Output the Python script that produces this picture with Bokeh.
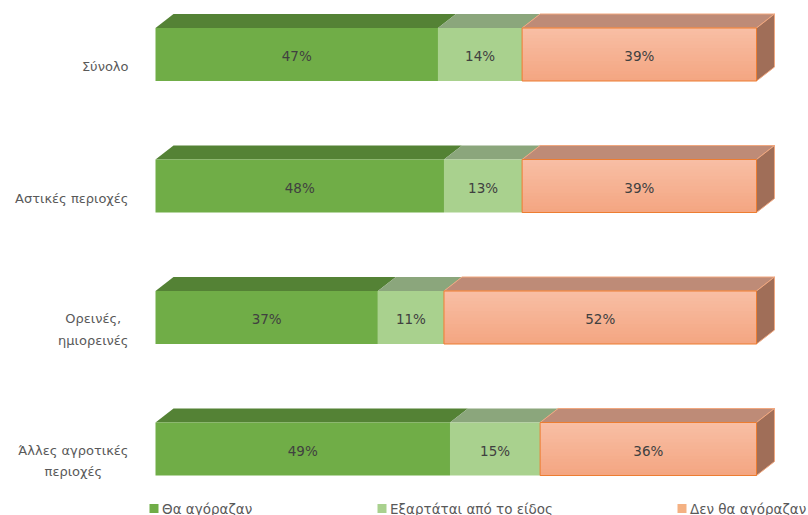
from bokeh.plotting import figure
from bokeh.models import ColumnDataSource, Range1d
from bokeh.core.properties import value
from bokeh.embed import file_html
from bokeh.resources import INLINE

# ---------------- data ----------------
categories = ["Σύνολο", "Αστικές περιοχές", "Ορεινές,\nημιορεινές", "Άλλες αγροτικές\nπεριοχές"]
would_buy = [47, 48, 37, 49]
depends = [14, 13, 11, 15]
would_not = [39, 39, 52, 36]
series_names = ["Θα αγόραζαν", "Εξαρτάται από το είδος", "Δεν θα αγόραζαν"]

# ---------------- style ----------------
front_colors = ["#70AD47", "#A9D18E", "#F5B08F"]
top_colors = ["#548235", "#8BA67C", "#BE8B77"]
side_color = "#A06E58"
legend_colors = ["#70AD47", "#A9D18E", "#F4B183"]
grad_top = (248, 190, 164)
grad_bot = (244, 166, 130)
FONT = "DejaVu Sans"

PX_PER_PCT = 6.01   # horizontal pixels per percent
ROW_PX = 131.5      # vertical pixels between category rows
X0_PX = 155         # page x of 0 %
Y0_PX = 54          # page y of first row centre
OFF = 0             # page offset of the canvas


def xd(px):
    return (px - X0_PX) / PX_PER_PCT


def yd(py):
    return (py - Y0_PX) / ROW_PX


W, H = 808, 515
p = figure(width=W, height=H, output_backend="svg", toolbar_location=None,
           x_range=Range1d(xd(OFF), xd(OFF + W)), y_range=Range1d(yd(OFF + H), yd(OFF)),
           x_axis_location=None, y_axis_location=None, min_border=0,
           outline_line_color=None, background_fill_color="white",
           border_fill_color="white")
p.grid.visible = False

hh = 26.5 / ROW_PX          # half bar height
ddx = 18 / PX_PER_PCT       # 3D depth (x)
ddy = 14 / ROW_PX           # 3D depth (y, upward)

series = [would_buy, depends, would_not]
idx = list(range(len(categories)))

lefts, rights = [], []
cum = [0] * len(categories)
for s in series:
    l = list(cum)
    r = [c + v for c, v in zip(cum, s)]
    lefts.append(l)
    rights.append(r)
    cum = r

# top faces
for k in range(3):
    xs, ys = [], []
    for i in idx:
        l, r = lefts[k][i], rights[k][i]
        t = i - hh
        xs.append([l, r, r + ddx, l + ddx])
        ys.append([t, t, t - ddy, t - ddy])
    lc = "#F0A77F" if k == 2 else None
    p.patches(xs, ys, fill_color=top_colors[k], line_color=lc, line_width=1)

# right side face of last segment
xs, ys = [], []
for i in idx:
    r = rights[2][i]
    t, b = i - hh, i + hh
    xs.append([r, r + ddx, r + ddx, r])
    ys.append([t, t - ddy, b - ddy, b])
p.patches(xs, ys, fill_color=side_color, line_color="#F0A77F", line_width=1)

# front faces
for k in range(2):
    src = ColumnDataSource(dict(left=lefts[k], right=rights[k],
                                top=[i - hh for i in idx], bottom=[i + hh for i in idx]))
    p.quad(left="left", right="right", top="top", bottom="bottom", source=src,
           fill_color=front_colors[k], line_color=None)

# orange front with vertical gradient (overlapping strips, no seams)
N = 16
gl, gr, gt, gb, gc = [], [], [], [], []
for i in idx:
    for j in range(N):
        f = j / (N - 1)
        col = "#%02x%02x%02x" % tuple(int(round(a + (b - a) * f)) for a, b in zip(grad_top, grad_bot))
        gl.append(lefts[2][i])
        gr.append(rights[2][i])
        gt.append(i - hh + 2 * hh * j / N)
        gb.append(i + hh)
        gc.append(col)
p.quad(left=gl, right=gr, top=gt, bottom=gb, fill_color=gc, line_color=None)
p.quad(left=lefts[2], right=rights[2], top=[i - hh for i in idx], bottom=[i + hh for i in idx],
       fill_color=None, line_color="#ED7D31", line_width=1)

# data labels
lx, ly, lt = [], [], []
for k in range(3):
    for i in idx:
        lx.append((lefts[k][i] + rights[k][i]) / 2)
        ly.append(i + 1.5 / ROW_PX)
        lt.append(f"{series[k][i]}%")
p.text(x=lx, y=ly, text=lt, text_align="center", text_baseline="middle",
       text_font=value(FONT), text_font_size="13.5px", text_color="#404040")

# category labels
p.text(x=[0] * len(idx), y=[i + 12 / ROW_PX for i in idx], text=categories,
       x_offset=-27, anchor="center_right", text_align="center",
       text_baseline="middle", text_line_height=1.45,
       text_font=value(FONT), text_font_size="13px", text_color="#595959")

# legend (manual)
leg_px = [153.5, 381.5, 681.5]
p.scatter(x=[xd(v) for v in leg_px], y=[yd(508)] * 3, marker="square", size=9,
          fill_color=legend_colors, line_color=None)
p.text(x=[xd(v) for v in leg_px], y=[yd(508)] * 3, text=series_names,
       x_offset=8, text_align="left", text_baseline="middle",
       text_font=value(FONT), text_font_size="13.5px", text_color="#595959")

open("out.html", "w").write(file_html(p, INLINE))
